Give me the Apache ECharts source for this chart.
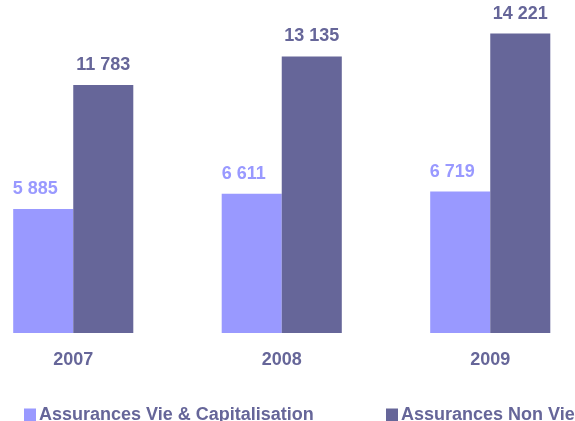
<!DOCTYPE html>
<html>
<head>
<meta charset="utf-8">
<script src="https://cdn.jsdelivr.net/npm/echarts@6/dist/echarts.min.js"></script>
<style>
	html, body { margin: 0; padding: 0; background: #fff; }
	#chart { width: 575px; height: 421px; }
</style>
</head>
<body>
<div id="chart"></div>
<script>
var years = ['2007', '2008', '2009'];
var vieValues = [5885, 6611, 6719];
var nonVieValues = [11783, 13135, 14221];
var seriesNames = ['Assurances Vie & Capitalisation', 'Assurances Non Vie'];

function fmt(v) {
	return String(v).replace(/\B(?=(\d{3})+(?!\d))/g, ' ');
}

var chart = echarts.init(document.getElementById('chart'));

// une légende par série pour garder l'écart du modèle
function legendAt(left, name) {
	return {
		left: left,
		top: 401,
		itemWidth: 12,
		itemHeight: 13,
		icon: 'rect',
		textStyle: { fontSize: 18, fontWeight: 'bold', color: '#666699', padding: [0, 0, 0, -2] },
		data: [name]
	};
}

var option = {
	animation: false,
	textStyle: { fontFamily: 'Liberation Sans, Arial, sans-serif' },
	legend: [legendAt(19, seriesNames[0]), legendAt(381, seriesNames[1])],
	grid: {
		left: -31,
		width: 625.5,
		top: 17.2,
		height: 315.8,
		outerBoundsMode: 'none',
		containLabel: false
	},
	xAxis: {
		type: 'category',
		data: years,
		axisLine: { show: false },
		axisTick: { show: false },
		axisLabel: { margin: 18, fontSize: 18, fontWeight: 'bold', color: '#666699' }
	},
	yAxis: {
		type: 'value',
		min: 0,
		max: 15000,
		show: false,
		splitLine: { show: false }
	},
	series: [
		{
			name: seriesNames[0],
			type: 'bar',
			data: vieValues,
			barGap: '0%',
			barCategoryGap: '42.4%',
			itemStyle: { color: '#9999ff' },
			label: {
				show: true,
				position: 'top',
				distance: 11,
				offset: [-8, 0],
				fontSize: 18,
				fontWeight: 'bold',
				color: '#9999ff',
				formatter: function(p) { return fmt(p.value); }
			}
		},
		{
			name: seriesNames[1],
			type: 'bar',
			data: nonVieValues,
			itemStyle: { color: '#666699' },
			label: {
				show: true,
				position: 'top',
				distance: 11,
				fontSize: 18,
				fontWeight: 'bold',
				color: '#666699',
				formatter: function(p) { return fmt(p.value); }
			}
		}
	]
};

chart.setOption(option);
</script>
</body>
</html>
